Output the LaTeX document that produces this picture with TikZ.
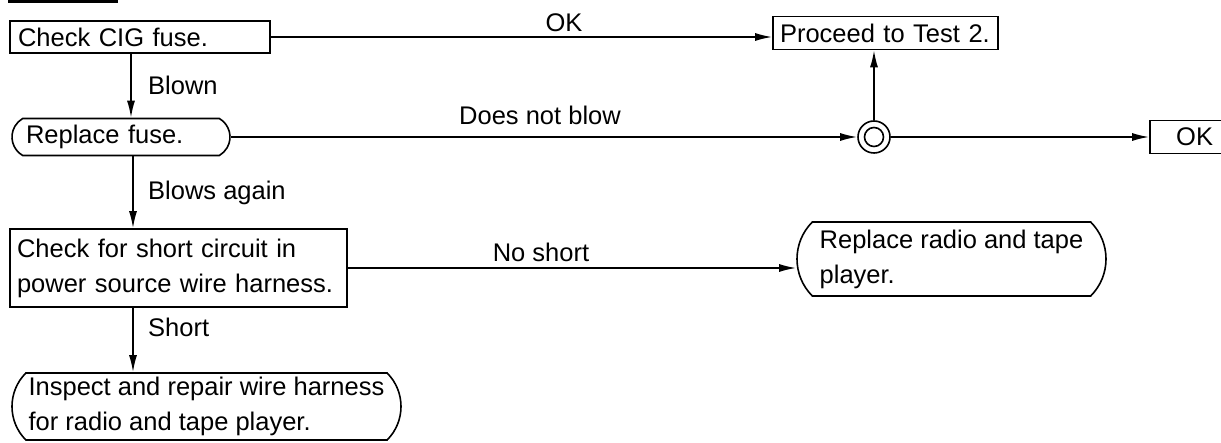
\documentclass[tikz,border=0pt]{standalone}
\usepackage{fontspec}
\setmainfont{Liberation Sans}
\usetikzlibrary{arrows.meta,shapes.misc}
\begin{document}
\begin{tikzpicture}[x=1pt,y=-1pt,
  every node/.style={font=\fontsize{25.5}{35}\selectfont},
  box/.style={draw,line width=1.6pt,rectangle,inner ysep=0pt,align=left},
  rbox/.style={draw,line width=1.6pt,rounded rectangle,rounded rectangle arc length=90,inner xsep=2pt,inner ysep=0pt,align=left},
  lbl/.style={inner sep=0pt,anchor=base west},
  arr/.style={line width=1.6pt,-{Latex[length=17pt,width=8pt]}},
  ln/.style={line width=1.6pt}]
\useasboundingbox (0,0) rectangle (1221,443);
\draw[line width=3pt] (8,2) -- (118,2);
\node[box,minimum width=260,minimum height=32,text width=244,inner xsep=8pt] (chk) at (140,37) {Check CIG fuse.};
\node[box,minimum width=225,minimum height=33,text width=211,inner xsep=7pt] (proc) at (885.5,33) {Proceed to Test 2.};
\node[rbox,rounded rectangle arc length=120,minimum width=222,minimum height=37,text width=190] (rep) at (121,137) {Replace fuse.};
\node[circle,draw,line width=1.6pt,minimum size=32,inner sep=0pt] (j) at (874,137) {};
\node[circle,draw,line width=1.6pt,minimum size=19,inner sep=0pt] (jin) at (j) {};
\node[box,minimum width=74,minimum height=33,text width=52,inner xsep=0pt,align=right] (ok) at (1187,137) {OK};
\node[box,minimum width=337,minimum height=78,text width=323,inner xsep=7pt] (short) at (178.5,268) {Check for short circuit in\\power source wire harness.};
\node[rbox,minimum width=313,minimum height=74] (radio) at (951.5,259) {Replace radio and tape\\player.};
\node[rbox,minimum width=393,minimum height=67] (insp) at (206.5,406.5) {Inspect and repair wire harness\\for radio and tape player.};
\coordinate (v1) at (131,0);
\coordinate (v2) at (133,0);
\draw[arr] (chk.east) -- (chk.east -| proc.west);
\draw[arr] (v1 |- chk.south) -- (v1 |- rep.north);
\draw[arr] (rep.east) -- (j.west);
\draw[arr] (j.north) -- (j.north |- proc.south);
\draw[arr] (j.east) -- (ok.west);
\draw[arr] (v2 |- rep.south) -- (v2 |- short.north);
\draw[arr] (short.east) -- (short.east -| radio.west);
\draw[arr] (v2 |- short.south) -- (v2 |- insp.north);
\node[inner sep=0pt,anchor=base] (lok) at (564,32) {OK};
\node[lbl] (lblown) at (148,95) {Blown};
\node[inner sep=0pt,anchor=base] (ldnb) at (540,125) {Does not blow};
\node[lbl] (lba) at (148,200) {Blows again};
\node[inner sep=0pt,anchor=base] (lns) at (541,262) {No short};
\node[lbl] (lsh) at (148,337) {Short};
\end{tikzpicture}
\end{document}
